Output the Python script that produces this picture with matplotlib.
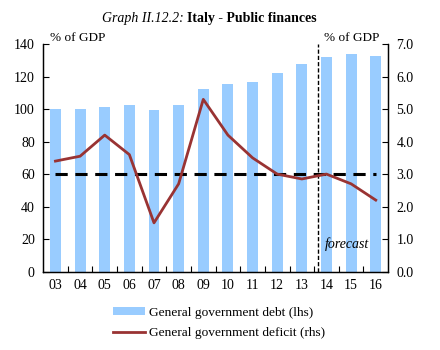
import matplotlib
matplotlib.use("Agg")
import matplotlib.pyplot as plt
from matplotlib.patches import Patch
from matplotlib.lines import Line2D
import numpy as np

plt.rcParams['font.family'] = ['Liberation Serif', 'DejaVu Serif']

# Data
years = ["03", "04", "05", "06", "07", "08", "09", "10", "11", "12", "13", "14", "15", "16"]
debt = [100.0, 99.8, 101.5, 102.3, 99.5, 102.3, 112.5, 115.3, 116.4, 122.2, 127.9, 132.2, 133.9, 132.6]
deficit = [3.4, 3.55, 4.2, 3.6, 1.5, 2.7, 5.3, 4.2, 3.5, 3.0, 2.85, 3.0, 2.7, 2.2]
threshold = 60

bar_color = '#99CCFF'
line_color = '#993333'

fig = plt.figure(figsize=(4.4, 3.5), dpi=100)
ax = fig.add_axes([0.098, 0.224, 0.784, 0.650])
ax2 = ax.twinx()

x = np.arange(len(years))
ax.bar(x, debt, width=0.44, color=bar_color, zorder=2)
ax.plot([x[0], x[-1]], [threshold, threshold], color='black', lw=2.2,
        dashes=(4, 2.5), zorder=3)
ax.axvline(10.65, color='black', lw=1, dashes=(3, 1.5), zorder=3)
ax.text(10.93, 17, "forecast", style='italic', fontsize=10, va='center', ha='left')

ax2.plot(x, deficit, color=line_color, lw=2, zorder=4)

ax.set_xlim(-0.5, len(years) - 0.5)
ax.set_ylim(0, 140)
ax2.set_ylim(0, 7)
ax.set_yticks(range(0, 141, 20))
ax2.set_yticks(np.arange(0, 7.1, 1))
ax2.set_yticklabels([f"{v:.1f}" for v in np.arange(0, 7.1, 1)])

ax.set_xticks(x)
ax.set_xticklabels(years)
ax.set_xticks(x[:-1] + 0.5, minor=True)
ax.tick_params(axis='x', which='major', length=0, pad=5, labelsize=10)
ax.tick_params(axis='x', which='minor', direction='in', length=4, width=0.8)
ax.tick_params(axis='y', direction='in', length=4, width=0.8, labelsize=10, pad=6)
ax2.tick_params(axis='y', direction='in', length=4, width=0.8, labelsize=10, pad=6)

for a in (ax, ax2):
    a.spines['top'].set_visible(False)
    for s in ('left', 'right', 'bottom'):
        a.spines[s].set_linewidth(0.9)

ax.text(0.02, 1.0, "% of GDP", transform=ax.transAxes, fontsize=9.5, va='bottom', ha='left')
ax.text(0.975, 1.0, "% of GDP", transform=ax.transAxes, fontsize=9.5, va='bottom', ha='right')

fig.text(0.425, 0.929, "Graph II.12.2: ", style='italic', fontsize=10, ha='right', va='bottom')
fig.text(0.425, 0.929, "Italy - Public finances", weight='bold', fontsize=10, ha='left', va='bottom')

handles = [Patch(facecolor=bar_color, edgecolor='none'),
           Line2D([0], [0], color=line_color, lw=2)]
fig.legend(handles, ["General government debt (lhs)", "General government deficit (rhs)"],
           loc='upper left', bbox_to_anchor=(0.257, 0.123), frameon=False,
           fontsize=9.6, handlelength=2.4, handleheight=0.5, handletextpad=0.3,
           labelspacing=0.6, borderaxespad=0, borderpad=0)

fig.savefig("out.png", dpi=100)
